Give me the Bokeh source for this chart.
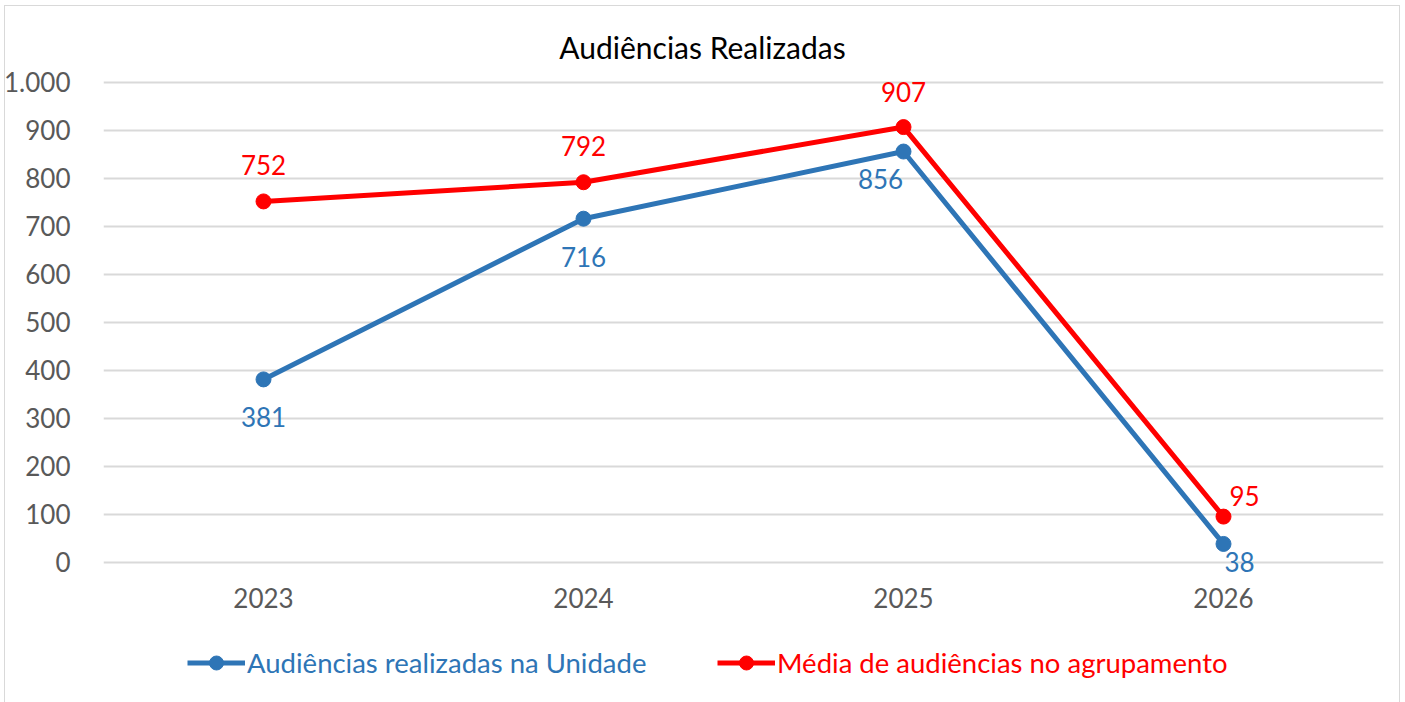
from bokeh.plotting import figure
from bokeh.models import (FactorRange, Range1d, FixedTicker, Legend, LegendItem,
                          Label, ColumnDataSource, InlineStyleSheet)
from bokeh.core.properties import value
from bokeh.embed import file_html
from bokeh.resources import INLINE

# ---- data ----
years = ["2023", "2024", "2025", "2026"]
unidade = [381, 716, 856, 38]
agrupamento = [752, 792, 907, 95]
y_ticks = [0, 100, 200, 300, 400, 500, 600, 700, 800, 900, 1000]
y_tick_labels = ["0", "100", "200", "300", "400", "500", "600", "700", "800", "900", "1.000"]
title_text = "Audiências Realizadas"
name_unidade = "Audiências realizadas na Unidade"
name_agrup = "Média de audiências no agrupamento"

# ---- styles ----
BLUE = "#2E75B6"
RED = "#FF0000"
FONT = "Lato"
blue_dx = [0, 0, -23, 16]
blue_dy = [38, 38, 27, 18]
red_dx = [0, 0, 0, 21]
red_dy = [-36, -36, -35, -21]

# frame extends above and below the value area so that title and legend are inside it
p = figure(width=1405, height=702, x_range=FactorRange(*years), y_range=Range1d(-255, 1125),
           output_backend="svg", toolbar_location=None,
           min_border_left=103, min_border_right=22, min_border_top=22, min_border_bottom=18)
p.outline_line_color = None
p.background_fill_color = "white"
p.border_fill_color = "white"
p.stylesheets = [InlineStyleSheet(css=(
    ":host { position: relative; }"
    ":host::after { content: ''; position: absolute; left: 4px; top: 5px; right: 5px; bottom: 0px;"
    " border: 1.5px solid #D9D9D9; border-bottom: none; pointer-events: none; z-index: 100;"
    " box-sizing: border-box; }"))]

src_b = ColumnDataSource(dict(x=years, y=unidade, t=[str(v) for v in unidade], dx=blue_dx, dy=blue_dy))
src_r = ColumnDataSource(dict(x=years, y=agrupamento, t=[str(v) for v in agrupamento], dx=red_dx, dy=red_dy))

lb = p.line("x", "y", source=src_b, line_color=BLUE, line_width=5)
sb = p.scatter("x", "y", source=src_b, size=15, fill_color=BLUE, line_color=BLUE)
lr = p.line("x", "y", source=src_r, line_color=RED, line_width=5)
sr = p.scatter("x", "y", source=src_r, size=15, fill_color=RED, line_color=RED)

p.text("x", "y", text="t", source=src_b, x_offset="dx", y_offset="dy",
       text_font=value(FONT), text_font_size="26px", text_color=BLUE,
       text_align="center", text_baseline="middle")
p.text("x", "y", text="t", source=src_r, x_offset="dx", y_offset="dy",
       text_font=value(FONT), text_font_size="26px", text_color=RED,
       text_align="center", text_baseline="middle")

# axes
for ax in (p.xaxis[0], p.yaxis[0]):
    ax.axis_line_color = None
    ax.major_tick_line_color = None
    ax.minor_tick_line_color = None
    ax.major_label_text_font = FONT
    ax.major_label_text_font_size = "26px"
    ax.major_label_text_color = "#595959"
p.yaxis.ticker = FixedTicker(ticks=y_ticks)
p.yaxis.major_label_overrides = {t: l for t, l in zip(y_ticks, y_tick_labels)}
p.yaxis.major_label_standoff = 27
p.xaxis.fixed_location = 0
p.xaxis.major_label_standoff = 20

p.xgrid.grid_line_color = None
p.ygrid.grid_line_color = "#D9D9D9"
p.ygrid.grid_line_width = 2

# title
p.add_layout(Label(x=1.872, y=1073, text=title_text,
                   text_font=FONT, text_font_size="30px", text_color="black",
                   text_align="center", text_baseline="middle"))

common = dict(orientation="horizontal", label_text_font=FONT, label_text_font_size="27.5px",
              glyph_width=58, glyph_height=35, label_standoff=2,
              padding=0, margin=0, border_line_color=None, background_fill_alpha=0)
leg_b = Legend(items=[LegendItem(label=name_unidade, renderers=[lb, sb])],
               location=(84, 4), label_text_color=BLUE, **common)
leg_r = Legend(items=[LegendItem(label=name_agrup, renderers=[lr, sr])],
               location=(614, 4), label_text_color=RED, **common)
p.add_layout(leg_b, "center")
p.add_layout(leg_r, "center")

html = file_html(p, INLINE)
open("out.html", "w").write(html)
